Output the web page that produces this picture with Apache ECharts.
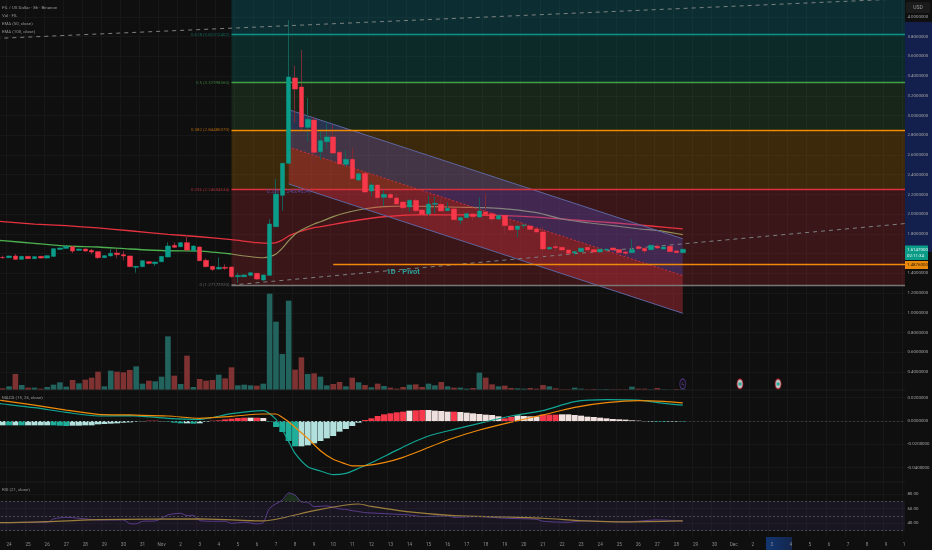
<!DOCTYPE html>
<html>
<head>
<meta charset="utf-8">
<title>FIL / US Dollar</title>
<script src="https://cdn.jsdelivr.net/npm/echarts@6/dist/echarts.min.js"></script>
<style>
	html, body { margin: 0; padding: 0; background: #0f0f0f; }
	#chart { width: 932px; height: 550px; }
</style>
</head>
<body>
<div id="chart"></div>
<script>
// day labels, one per 3 bars (8h candles), bar 0 is the last one of Oct 23
const dayLabels = ["24", "25", "26", "27", "28", "29", "30", "31", "Nov", "2", "3", "4", "5", "6", "7", "8", "9", "10", "11", "12", "13", "14", "15", "16", "17", "18", "19", "20", "21", "22", "23", "24", "25", "26", "27", "28", "29", "30", "Dec", "2", "3", "4", "5", "6", "7", "8", "9", "10"];

const priceTicks = [0.4, 0.6, 0.8, 1.0, 1.2, 1.4, 1.6, 1.8, 2.0, 2.2, 2.4, 2.6, 2.8, 3.0, 3.2, 3.4, 3.6, 3.8, 4.0];
const macdTicks = [-0.04, -0.02, 0, 0.02];
const rsiTicks = [40, 60, 80];

// open, close, low, high
const candles = [
	[1.562, 1.559, 1.545, 1.579], [1.559, 1.576, 1.555, 1.579], [1.576, 1.542, 1.542, 1.596], [1.542, 1.572, 1.542, 1.576],
	[1.572, 1.549, 1.545, 1.576], [1.549, 1.569, 1.545, 1.572], [1.572, 1.555, 1.552, 1.576], [1.555, 1.579, 1.552, 1.583],
	[1.572, 1.650, 1.569, 1.653], [1.643, 1.657, 1.640, 1.660], [1.653, 1.674, 1.650, 1.684], [1.670, 1.626, 1.606, 1.677],
	[1.633, 1.647, 1.630, 1.650], [1.647, 1.626, 1.620, 1.650], [1.633, 1.616, 1.593, 1.647], [1.620, 1.559, 1.545, 1.623],
	[1.559, 1.579, 1.555, 1.583], [1.576, 1.603, 1.572, 1.647], [1.606, 1.589, 1.552, 1.647], [1.589, 1.576, 1.532, 1.626],
	[1.576, 1.468, 1.464, 1.579], [1.461, 1.471, 1.407, 1.474], [1.468, 1.528, 1.464, 1.532], [1.518, 1.501, 1.491, 1.522],
	[1.498, 1.515, 1.474, 1.518], [1.518, 1.572, 1.515, 1.576], [1.566, 1.677, 1.562, 1.714], [1.684, 1.664, 1.660, 1.714],
	[1.670, 1.711, 1.667, 1.714], [1.711, 1.636, 1.633, 1.789], [1.630, 1.677, 1.626, 1.684], [1.667, 1.528, 1.525, 1.674],
	[1.532, 1.468, 1.461, 1.552], [1.471, 1.440, 1.424, 1.474], [1.444, 1.461, 1.440, 1.562], [1.461, 1.451, 1.434, 1.491],
	[1.464, 1.366, 1.355, 1.468], [1.366, 1.378, 1.305, 1.406], [1.366, 1.383, 1.360, 1.388], [1.380, 1.406, 1.375, 1.410],
	[1.400, 1.342, 1.335, 1.404], [1.332, 1.383, 1.325, 1.388], [1.380, 1.900, 1.375, 1.951], [1.873, 2.204, 1.870, 2.357],
	[2.191, 2.516, 2.035, 2.520], [2.516, 3.391, 2.510, 3.969], [3.381, 3.269, 2.925, 3.506], [3.290, 2.884, 2.854, 3.665],
	[2.881, 2.962, 2.735, 3.181], [2.955, 2.627, 2.499, 2.988], [2.634, 2.745, 2.549, 2.854], [2.735, 2.783, 2.661, 2.938],
	[2.783, 2.620, 2.610, 2.904], [2.627, 2.509, 2.481, 2.640], [2.506, 2.556, 2.478, 2.651], [2.556, 2.360, 2.350, 2.671],
	[2.346, 2.410, 2.340, 2.420], [2.414, 2.225, 2.204, 2.430], [2.235, 2.296, 2.177, 2.319], [2.296, 2.167, 2.103, 2.300],
	[2.171, 2.201, 2.083, 2.262], [2.201, 2.167, 2.150, 2.228], [2.164, 2.103, 2.095, 2.215], [2.123, 2.065, 2.025, 2.130],
	[2.073, 2.140, 2.025, 2.150], [2.140, 2.035, 2.012, 2.164], [2.042, 1.999, 1.990, 2.050], [2.002, 2.103, 1.985, 2.190],
	[2.100, 2.110, 2.010, 2.178], [2.100, 2.032, 2.025, 2.158], [2.036, 2.059, 2.030, 2.120], [2.053, 1.944, 1.940, 2.060],
	[1.938, 1.965, 1.895, 1.970], [1.965, 2.005, 1.960, 2.010], [2.002, 1.975, 1.934, 2.008], [1.971, 2.032, 1.965, 2.171],
	[2.022, 1.995, 1.990, 2.211], [2.005, 1.951, 1.907, 2.012], [1.951, 1.985, 1.945, 1.990], [1.988, 1.884, 1.796, 1.995],
	[1.880, 1.840, 1.835, 1.938], [1.846, 1.880, 1.765, 1.884], [1.887, 1.890, 1.857, 1.895], [1.880, 1.846, 1.843, 1.890],
	[1.850, 1.819, 1.812, 1.857], [1.819, 1.647, 1.552, 1.873], [1.647, 1.664, 1.640, 1.670], [1.671, 1.660, 1.620, 1.715],
	[1.664, 1.637, 1.610, 1.675], [1.637, 1.603, 1.598, 1.640], [1.606, 1.620, 1.579, 1.625], [1.620, 1.654, 1.615, 1.658],
	[1.664, 1.637, 1.630, 1.668], [1.640, 1.617, 1.610, 1.644], [1.617, 1.644, 1.612, 1.648], [1.637, 1.644, 1.625, 1.652],
	[1.657, 1.637, 1.630, 1.662], [1.640, 1.610, 1.605, 1.644], [1.617, 1.603, 1.579, 1.622], [1.610, 1.640, 1.605, 1.745],
	[1.671, 1.650, 1.645, 1.680], [1.654, 1.627, 1.603, 1.660], [1.640, 1.684, 1.635, 1.690], [1.674, 1.657, 1.650, 1.700],
	[1.647, 1.667, 1.642, 1.672], [1.674, 1.620, 1.615, 1.680], [1.627, 1.610, 1.605, 1.630], [1.610, 1.644, 1.605, 1.650]
];

// sign is the bar's direction
const volumes = [-5, 11, -48, 15, -7, 7, -4, 9, 16, 23, 10, -30, 20, -31, -37, -55, 11, 58, -55, -53, -60, 71, 19, -28, 26, 40, 161, -43, 18, -103, 9, -33, -28, -30, 46, -35, -68, 14, 16, 14, -13, 19, 289, 205, 108, 268, -61, -98, 48, -50, 40, 14, -18, -24, 11, -37, 23, -15, 8, -19, 12, -7, -4, -9, 16, -17, -9, 19, 14, -24, 11, -7, 7, 4, -6, 52, -37, -17, 11, -13, -6, 5, 4, -6, -4, -15, 11, -5, -2, -2, 7, 4, -2, -3, 2, 3, -2, -2, -2, 10, -4, -4, 2, -6, 2, 1, -3, 2];

// [bar, value]; bar -1 is the one cut by the left edge
const ema50Left = [[-1, 1.736], [0, 1.731], [5, 1.704], [10, 1.677], [15, 1.667], [20, 1.647], [26, 1.629], [31, 1.626], [36, 1.596]];
const ema50Right = [[36, 1.596], [41, 1.558], [42, 1.569], [43, 1.596], [44, 1.656], [45, 1.731], [46, 1.796], [47, 1.839], [49, 1.900], [50, 1.923], [52, 1.975], [53, 1.997], [55, 2.030], [57, 2.055], [60, 2.076], [64, 2.083], [68, 2.076], [72, 2.070], [76, 2.066], [80, 2.049], [84, 2.015], [88, 1.951], [92, 1.913], [96, 1.883], [100, 1.852], [104, 1.826], [107, 1.792]];
const ema100 = [[-1, 1.929], [0, 1.924], [5, 1.900], [10, 1.883], [15, 1.860], [20, 1.832], [26, 1.796], [31, 1.771], [36, 1.741], [40, 1.711], [42, 1.704], [43, 1.711], [44, 1.738], [45, 1.779], [46, 1.806], [47, 1.829], [49, 1.863], [50, 1.873], [56, 1.941], [60, 1.974], [66, 1.995], [72, 1.992], [78, 1.988], [84, 1.971], [90, 1.941], [96, 1.913], [102, 1.880], [107, 1.850]];

const fibPrices = [3.822, 3.333, 2.854, 2.251, 1.281];
const fibNames = ["0.618 (3.82312402)", "0.5 (3.32998360)", "0.382 (2.84480370)", "0.236 (2.24604634)", "0 (1.27172920)"];
const pivotPrice = 1.4876;

// start and end of the parallel channel
const channelBars = [45, 107];
const channelTop = [3.0596, 1.750];
const channelMid = [2.681, 1.377];
const channelBottom = [2.306, 0.995];

const trendUpper = [[-1, 3.782], [142, 4.185]];
const trendLower = [[36, 1.281], [142, 1.905]];

const macdLine = [[-1, 0.0152], [0, 0.0146], [5, 0.0114], [10, 0.0074], [15, 0.0043], [20, 0.0046], [26, 0.0023], [31, 0.0014], [36, 0.0063], [41, 0.0089], [43, 0.0014], [44, -0.0077], [45, -0.0177], [46, -0.0278], [48, -0.0392], [50, -0.0429], [52, -0.0461], [54, -0.0449], [56, -0.0406], [58, -0.0358], [61, -0.0278], [64, -0.0197], [67, -0.0129], [71, -0.0072], [75, -0.0020], [80, 0.0043], [85, 0.0089], [90, 0.0166], [95, 0.0183], [100, 0.0180], [104, 0.0152], [107, 0.0137]];
const macdSignal = [[-1, 0.0182], [0, 0.0175], [5, 0.0137], [10, 0.0094], [15, 0.0057], [20, 0.0052], [26, 0.0043], [31, 0.0023], [36, 0.0040], [41, 0.0060], [43, 0.0060], [44, 0.0031], [45, -0.0006], [46, -0.0054], [48, -0.0149], [50, -0.0255], [52, -0.0329], [54, -0.0369], [55, -0.0386], [57, -0.0383], [60, -0.0358], [63, -0.0312], [66, -0.0249], [70, -0.0163], [75, -0.0077], [80, -0.0009], [85, 0.0052], [90, 0.0117], [95, 0.0157], [100, 0.0175], [104, 0.0169], [107, 0.0155]];
// histogram in 1/3495 units of the MACD scale
const macdHistUnit = 1 / 3495;
const macdHist = [-13, -13, -13, -13, -13, -13, -13, -13, -13, -14, -15, -14, -14, -13, -13, -10, -9, -8, -7, -5, -4, -2, -1, 1, 1, -1, -2, -5, -7, -7, -8, -7, -2, 1, 2, 5, 7, 9, 10, 10, 10, 9, -2, -18, -33, -60, -76, -76, -73, -67, -60, -52, -45, -32, -24, -15, -5, 3, 8, 15, 20, 23, 26, 28, 31, 32, 33, 33, 31, 30, 28, 28, 27, 25, 23, 21, 19, 18, 14, 8, 12, 17, 15, 14, 14, 19, 19, 19, 20, 20, 18, 16, 13, 12, 10, 8, 6, 5, 4, 2, 1, -1, -2, -3, -3, -2, -2, -2];
// D = saturated bar, L = pale bar
const macdShade = "LDLDLLLLDDDLLLLLLLLLLLLDDLDDDLDLLDDDDDDLDLDDDDDLLLLLLLLLLDDDDDDDLDDLLLLDLLLLLLLDDLLLLDDDLLLLLLLLLLLLLLLDDLLD";

const rsiValues = [[-1, 41], [0, 41], [3, 41.2], [6, 41.4], [7, 41.4], [8, 46], [10, 48.2], [12, 47], [15, 44.6], [19, 44.6], [20, 39.6], [21, 39.2], [22, 42.8], [24, 43.2], [26, 51.4], [28, 53.7], [29, 50.5], [30, 51], [31, 43.7], [33, 42.8], [35, 42.8], [36, 40], [38, 41.4], [40, 39.2], [41, 41], [42, 60.5], [44, 71.9], [45, 81.5], [46, 78.7], [47, 69.2], [48, 68.7], [49, 62.8], [51, 63.7], [52, 61.9], [53, 59.6], [54, 59], [55, 57.3], [56, 56], [57, 54.6], [59, 53.7], [64, 51.4], [66, 49.2], [70, 50.1], [71, 48.2], [75, 49.2], [79, 46.9], [84, 45.5], [85, 42.8], [89, 41.4], [91, 43.2], [98, 41.9], [103, 44.6], [107, 43.2]];
const rsiAverage = [[-1, 41], [0, 41], [7, 42.3], [15, 45], [31, 46], [41, 43.2], [44, 47.3], [49, 57.3], [54, 65], [56, 66.4], [58, 63], [64, 55.5], [71, 50.5], [79, 48.7], [85, 46.9], [92, 43.2], [98, 41.9], [107, 43.2]];
const rsiOverbought = [[44, 70], [45, 81.5], [46, 78.7], [47, 70]];
const rsiBand = [30, 50, 70];

const eventBars = [116, 122];
const dividendBar = 107;

const fibLineColors = ["#0f9488", "#43a047", "#f08a00", "#d9323f", "#777777"];
const fibTextColors = ["#12665c", "#3c7a3f", "#a8620f", "#a5303a", "#666666"];
const fibFills = ["rgba(0,188,212,0.18)", "rgba(0,150,136,0.2)", "rgba(76,175,80,0.15)", "rgba(255,152,0,0.19)", "rgba(242,54,69,0.19)"];

const upColor = "#0a9d8a";
const downColor = "#f7374a";
const fontName = "Roboto, Arial, sans-serif";
const gridColor = "#171717";
const textSize = 4.4;

// one extra category sits left of the window so the lines reach the edge
const lead = 1;
const bar = (i) => i + lead;
const shifted = (points) => points.map((p) => [bar(p[0]), p[1]]);
const lastBar = bar(142);

const categories = ["23:8", "23:16"];
dayLabels.forEach((d) => {
	categories.push(d, d + ":8", d + ":16");
});
categories.length = 144;

const isDay = (i) => (i - 2) % 3 === 0;

// axes that carry grid lines stay under the series
function gridXAxis(gridIndex) {
	return {
		type: "category",
		gridIndex: gridIndex,
		position: "bottom",
		data: categories,
		axisLine: {show: false},
		axisTick: {show: false},
		axisLabel: {show: false},
		splitLine: {show: true, interval: (i) => isDay(i), lineStyle: {color: gridColor, width: 1}}
	};
}

function gridYAxis(gridIndex, min, max, ticks) {
	return {
		type: "value",
		gridIndex: gridIndex,
		position: "right",
		min: min,
		max: max,
		axisLine: {show: false},
		axisTick: {show: false, customValues: ticks},
		axisLabel: {show: false},
		splitLine: {show: true, lineStyle: {color: gridColor, width: 1}}
	};
}

// axes that carry labels go over the price scale column
function labelYAxis(gridIndex, min, max, ticks, digits) {
	return {
		type: "value",
		gridIndex: gridIndex,
		position: "right",
		min: min,
		max: max,
		z: 120,
		axisLine: {show: false},
		axisTick: {show: false},
		splitLine: {show: false},
		axisLabel: {
			customValues: ticks,
			formatter: (v) => v.toFixed(digits),
			color: "#a4a4a4",
			fontSize: textSize,
			fontFamily: fontName,
			margin: -1
		}
	};
}

function channelBand(upper, lower, fill) {
	return {
		type: "custom",
		xAxisIndex: 0,
		yAxisIndex: 0,
		z: 3,
		silent: true,
		data: [[bar(channelBars[0]), upper[0], lower[0], bar(channelBars[1]), upper[1], lower[1]]],
		renderItem: (params, api) => ({
			type: "polygon",
			shape: {points: [
				api.coord([api.value(0), api.value(1)]),
				api.coord([api.value(3), api.value(4)]),
				api.coord([api.value(3), api.value(5)]),
				api.coord([api.value(0), api.value(2)])
			]},
			style: {fill: fill}
		})
	};
}

function channelEdge(values, color, type) {
	return {
		type: "line",
		xAxisIndex: 0,
		yAxisIndex: 0,
		z: 3,
		symbol: "none",
		data: [[bar(channelBars[0]), values[0]], [bar(channelBars[1]), values[1]]],
		lineStyle: {color: color, width: 1, type: type}
	};
}

function trendLine(points) {
	return {
		type: "line",
		xAxisIndex: 0,
		yAxisIndex: 0,
		z: 3,
		symbol: "none",
		data: shifted(points),
		lineStyle: {color: "#7c8080", width: 1, type: [4, 4]}
	};
}

function paneLine(points, axis, color, width, z) {
	return {
		type: "line",
		xAxisIndex: axis,
		yAxisIndex: axis === 0 ? 0 : axis + 1,
		z: z,
		symbol: "none",
		smooth: 0.25,
		data: shifted(points),
		lineStyle: {color: color, width: width}
	};
}

function legendText(text, y) {
	return {type: "text", z: 130, silent: true, x: 2, y: y, style: {text: text, fill: "#949494", font: textSize + "px " + fontName, verticalAlign: "middle"}};
}

const fibZoneTops = [4.172].concat(fibPrices.slice(0, 4));
const blankCandle = ["-", "-", "-", "-"];
const paneGrid = {left: -6.856, width: 915.26, outerBoundsMode: "none"};

const option = {
	animation: false,
	backgroundColor: "#0f0f0f",
	grid: [
		Object.assign({top: 0, height: 390}, paneGrid),
		Object.assign({top: 390, height: 92}, paneGrid),
		Object.assign({top: 482, height: 54.5}, paneGrid)
	],
	xAxis: [
		gridXAxis(0),
		gridXAxis(1),
		gridXAxis(2),
		{
			type: "category",
			gridIndex: 2,
			position: "bottom",
			data: categories,
			z: 50,
			axisLine: {show: false},
			axisTick: {show: false},
			splitLine: {show: false},
			axisLabel: {
				interval: (i) => isDay(i),
				formatter: (v) => v.split(":")[0],
				color: "#8c8c8c",
				fontSize: 4.6,
				fontFamily: fontName,
				margin: 5.5
			}
		}
	],
	yAxis: [
		gridYAxis(0, 0.2168, 4.172, priceTicks),
		{type: "value", gridIndex: 0, min: 0, max: 1170, show: false},
		gridYAxis(1, -0.05236, 0.02661, macdTicks),
		gridYAxis(2, 22, 96.4, rsiTicks),
		labelYAxis(0, 0.2168, 4.172, priceTicks, 7),
		labelYAxis(1, -0.05236, 0.02661, macdTicks, 7),
		labelYAxis(2, 22, 96.4, rsiTicks, 2)
	],
	series: [
		// volume
		{
			type: "bar",
			xAxisIndex: 0,
			yAxisIndex: 1,
			z: 0.5,
			barWidth: 5.6,
			data: [null].concat(volumes.map((v) => ({
				value: Math.abs(v),
				itemStyle: {color: v >= 0 ? "#22635e" : "#7f3232"}
			})))
		},
		// emas sit under the fib fill, that is what tints them
		paneLine(ema100, 0, "#e5323f", 1.3, 1),
		paneLine(ema50Left, 0, "#4caf50", 1.3, 1),
		paneLine(ema50Right, 0, "#949058", 1.2, 1),
		// fib zones, lines and labels
		{
			type: "line",
			xAxisIndex: 0,
			yAxisIndex: 0,
			z: 2,
			data: [],
			markArea: {
				silent: true,
				data: fibFills.map((fill, k) => [
					{coord: [bar(36), fibZoneTops[k]], itemStyle: {color: fill}},
					{coord: [lastBar, fibPrices[k]]}
				])
			},
			markLine: {
				silent: true,
				symbol: "none",
				data: fibPrices.map((p, k) => [
					{
						coord: [bar(36), p],
						lineStyle: {color: fibLineColors[k], width: 1.4, type: "solid"},
						label: {
							show: true,
							position: "start",
							distance: 2,
							formatter: fibNames[k],
							color: fibTextColors[k],
							fontSize: textSize,
							fontFamily: fontName
						}
					},
					{coord: [lastBar, p]}
				]).concat([[
					{
						coord: [bar(52), pivotPrice],
						lineStyle: {color: "#ef8a0a", width: 1.4, type: "solid"},
						label: {show: false}
					},
					{coord: [lastBar, pivotPrice]}
				]])
			},
			markPoint: {
				silent: true,
				symbol: "circle",
				symbolSize: 0,
				data: [
					{
						coord: [bar(63), 1.413],
						label: {show: true, position: "inside", formatter: "1D - Pivot", color: "#2aa198", fontSize: 7.5, fontWeight: 700, fontFamily: fontName}
					},
					{
						coord: [bar(45), 2.225],
						label: {show: true, position: "inside", formatter: "0.236 (2.24604634)", color: "#5a4a9a", fontSize: 5, fontFamily: fontName}
					}
				]
			}
		},
		channelBand(channelTop, channelMid, "rgba(90,90,230,0.27)"),
		channelBand(channelMid, channelBottom, "rgba(242,54,69,0.33)"),
		channelEdge(channelTop, "#5c659f", "solid"),
		channelEdge(channelMid, "#c8323f", [2, 2]),
		channelEdge(channelBottom, "#5c659f", "solid"),
		trendLine(trendUpper),
		trendLine(trendLower),
		// wicks, dimmer than the bodies, then the bodies on top
		{
			type: "candlestick",
			xAxisIndex: 0,
			yAxisIndex: 0,
			z: 4,
			barWidth: 1,
			data: [blankCandle].concat(candles),
			itemStyle: {color: "#155f59", color0: "#7c2a33", borderColor: "#155f59", borderColor0: "#7c2a33", borderColorDoji: "#155f59", borderWidth: 1}
		},
		{
			type: "candlestick",
			xAxisIndex: 0,
			yAxisIndex: 0,
			z: 5,
			barWidth: 5,
			data: [blankCandle].concat(candles.map((c) => [c[0], c[1], Math.min(c[0], c[1]), Math.max(c[0], c[1])])),
			itemStyle: {color: upColor, color0: downColor, borderColor: upColor, borderColor0: downColor, borderWidth: 0.5}
		},
		// event marks
		{
			type: "scatter",
			xAxisIndex: 0,
			yAxisIndex: 1,
			z: 6,
			symbolSize: [6, 10],
			data: eventBars.map((b) => [bar(b), 18]),
			itemStyle: {color: "#e8f2f0", borderColor: "#b01c2c", borderWidth: 1.2}
		},
		{
			type: "scatter",
			xAxisIndex: 0,
			yAxisIndex: 1,
			z: 7,
			symbol: "rect",
			symbolSize: [3, 3],
			data: eventBars.map((b) => [bar(b), 18]),
			itemStyle: {color: "#0a9d8a"}
		},
		{
			type: "scatter",
			xAxisIndex: 0,
			yAxisIndex: 1,
			z: 6,
			symbolSize: [6, 10],
			data: [[bar(dividendBar), 18]],
			itemStyle: {color: "#141018", borderColor: "#5a3a8f", borderWidth: 1},
			label: {show: true, position: "inside", formatter: "\u03DF", color: "#6a4aa0", fontSize: 6}
		},
		// macd
		{
			type: "bar",
			xAxisIndex: 1,
			yAxisIndex: 2,
			z: 2,
			barWidth: 6,
			data: [null].concat(macdHist.map((h, i) => {
				const pale = macdShade[i] === "L";
				let color;
				if (h >= 0) {
					color = pale ? "#efdfdd" : "#f7374a";
				} else {
					color = pale ? "#b2e0dc" : "#1fae9a";
				}
				return {value: h * macdHistUnit, itemStyle: {color: color}};
			})),
			markLine: {
				silent: true,
				symbol: "none",
				label: {show: false},
				lineStyle: {color: "#3a3a3a", type: [2, 2], width: 1},
				data: [{yAxis: 0}]
			}
		},
		paneLine(macdLine, 1, "#12a594", 1.2, 3),
		paneLine(macdSignal, 1, "#ef8a0a", 1.2, 4),
		// rsi
		{
			type: "line",
			xAxisIndex: 2,
			yAxisIndex: 3,
			z: 1,
			data: [],
			markArea: {
				silent: true,
				itemStyle: {color: "rgba(126,87,194,0.1)"},
				data: [[{coord: [0, rsiBand[0]]}, {coord: [lastBar, rsiBand[2]]}]]
			},
			markLine: {
				silent: true,
				symbol: "none",
				label: {show: false},
				lineStyle: {color: "#4c4c54", type: [2, 2], width: 1},
				data: rsiBand.map((v) => ({yAxis: v}))
			}
		},
		{
			type: "custom",
			xAxisIndex: 2,
			yAxisIndex: 3,
			z: 2,
			silent: true,
			data: [[0]],
			renderItem: (params, api) => ({
				type: "polygon",
				shape: {points: shifted(rsiOverbought).map((p) => api.coord(p))},
				style: {fill: "rgba(76,175,80,0.2)"}
			})
		},
		paneLine(rsiValues, 2, "#5b3d8e", 1, 3),
		paneLine(rsiAverage, 2, "#9c7f3c", 1.2, 4)
	],
	graphic: [
		// right hand price scale column
		{type: "rect", z: 100, silent: true, shape: {x: 905, y: 0, width: 27, height: 550}, style: {fill: "#0f0f0f"}},
		{type: "rect", z: 101, silent: true, shape: {x: 905, y: 22, width: 27, height: 230}, style: {fill: "#131f4c"}},
		{type: "rect", z: 102, silent: true, shape: {x: 906, y: 2, width: 24, height: 11, r: 1}, style: {fill: "#1b1b1b"}},
		{type: "text", z: 130, silent: true, x: 918, y: 8, style: {text: "USD", fill: "#9a9a9a", font: "5px " + fontName, align: "center", verticalAlign: "middle"}},
		{type: "rect", z: 130, silent: true, shape: {x: 905, y: 245.5, width: 23, height: 14.5}, style: {fill: "#0b9c88"}},
		{type: "text", z: 131, silent: true, x: 907, y: 250, style: {text: "1.6147000", fill: "#e6f5f2", font: textSize + "px " + fontName, verticalAlign: "middle"}},
		{type: "text", z: 131, silent: true, x: 907, y: 256, style: {text: "02:11:34", fill: "#e6f5f2", font: textSize + "px " + fontName, verticalAlign: "middle"}},
		{type: "rect", z: 130, silent: true, shape: {x: 905, y: 261, width: 23, height: 8}, style: {fill: "#e8890c"}},
		{type: "text", z: 131, silent: true, x: 907, y: 265, style: {text: "1.4876000", fill: "#3a2204", font: textSize + "px " + fontName, verticalAlign: "middle"}},
		// time scale highlight
		{
			type: "rect",
			z: 40,
			silent: true,
			shape: {x: 766, y: 537, width: 26, height: 13},
			style: {fill: new echarts.graphic.LinearGradient(0, 0, 1, 0, [{offset: 0, color: "#123672"}, {offset: 1, color: "#14264c"}])}
		},
		// pane separators
		{type: "line", z: 40, silent: true, shape: {x1: 0, y1: 390, x2: 932, y2: 390}, style: {stroke: "#1e1e1e", lineWidth: 1.2}},
		{type: "line", z: 40, silent: true, shape: {x1: 0, y1: 482, x2: 932, y2: 482}, style: {stroke: "#1e1e1e", lineWidth: 1.2}},
		// indicator legends
		legendText("FIL / US Dollar \u00B7 8h \u00B7 Binance", 8),
		legendText("Vol \u00B7 FIL", 15.5),
		legendText("EMA (50, close)", 23.5),
		legendText("EMA (100, close)", 31.5),
		legendText("MACD (15, 26, close)", 398),
		legendText("RSI (21, close)", 490)
	]
};

const myChart = echarts.init(document.getElementById("chart"));
myChart.setOption(option);
</script>
</body>
</html>
